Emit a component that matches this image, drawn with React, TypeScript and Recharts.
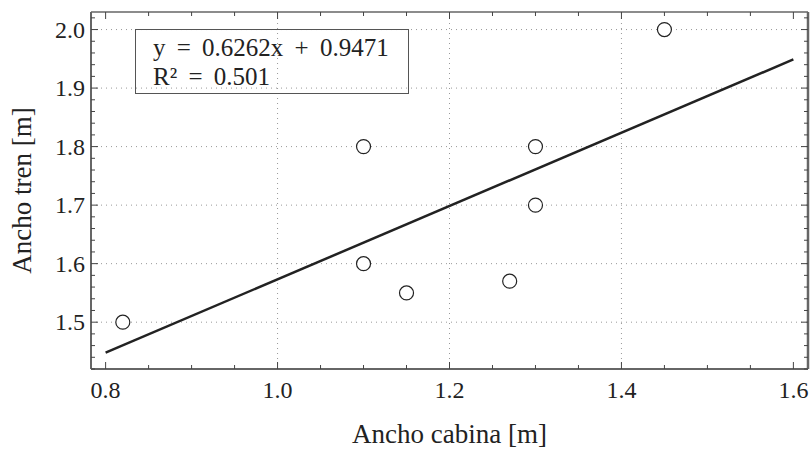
import React from 'react';
import { ScatterChart, Scatter, XAxis, YAxis, ReferenceLine } from 'recharts';

// Observed points
const pointX = [0.82, 1.1, 1.1, 1.15, 1.27, 1.3, 1.3, 1.45];
const pointY = [1.5, 1.8, 1.6, 1.55, 1.57, 1.8, 1.7, 2.0];

// Fitted line end points (y = 0.6262x + 0.9471)
const fitX = [0.8, 1.6];
const fitY = [1.448, 1.949];

// Axis ticks
const xMajorTicks = [0.8, 1.0, 1.2, 1.4, 1.6];
const xMinorTicks = [0.85, 0.9, 0.95, 1.05, 1.1, 1.15, 1.25, 1.3, 1.35, 1.45, 1.5, 1.55];
const yMajorTicks = [1.5, 1.6, 1.7, 1.8, 1.9, 2.0];
const yMinorTicks = [
  1.42, 1.44, 1.46, 1.48, 1.52, 1.54, 1.56, 1.58, 1.62, 1.64, 1.66, 1.68,
  1.72, 1.74, 1.76, 1.78, 1.82, 1.84, 1.86, 1.88, 1.92, 1.94, 1.96, 1.98, 2.02,
];
const xGridValues = [1.0, 1.2, 1.4];
const yGridValues = [1.5, 1.6, 1.7, 1.8, 1.9, 2.0];

const xDomain = [0.783, 1.617];
const yDomain = [1.42, 2.03];

const fitLabel = 'y = 0.6262x + 0.9471';
const r2Label = 'R² = 0.501';
const xTitle = 'Ancho cabina [m]';
const yTitle = 'Ancho tren [m]';

const points = pointX.map((x, i) => ({ x, y: pointY[i] }));
const fitData = fitX.map((x, i) => ({ x, y: fitY[i] }));
const xAllTicks = [...xMajorTicks, ...xMinorTicks].sort((a, b) => a - b);
const yAllTicks = [...yMajorTicks, ...yMinorTicks].sort((a, b) => a - b);

const FONT = '"Liberation Serif", "Times New Roman", serif';
const AXIS = '#666';
const TICK = '#444';
const TEXT = '#222';

const isMajor = (arr: number[], v: number) => arr.some((m) => Math.abs(m - v) < 1e-9);

const BottomTick = (props: any) => {
  const { x, y, payload } = props;
  const major = isMajor(xMajorTicks, payload.value);
  return (
    <g>
      <line x1={x} y1={y} x2={x} y2={y - (major ? 7 : 4)} stroke={TICK} strokeWidth={1} />
      {major && (
        <text x={x} y={y + 29} textAnchor="middle" fontFamily={FONT} fontSize={24} fill={TEXT}>
          {payload.value.toFixed(1)}
        </text>
      )}
    </g>
  );
};

const TopTick = (props: any) => {
  const { x, y, payload } = props;
  const major = isMajor(xMajorTicks, payload.value);
  return <line x1={x} y1={y} x2={x} y2={y + (major ? 7 : 4)} stroke={TICK} strokeWidth={1} />;
};

const LeftTick = (props: any) => {
  const { x, y, payload } = props;
  const major = isMajor(yMajorTicks, payload.value);
  return (
    <g>
      <line x1={x} y1={y} x2={x + (major ? 7 : 4)} y2={y} stroke={TICK} strokeWidth={1} />
      {major && (
        <text x={x - 6} y={y + 8} textAnchor="end" fontFamily={FONT} fontSize={24} fill={TEXT}>
          {payload.value.toFixed(1)}
        </text>
      )}
    </g>
  );
};

const RightTick = (props: any) => {
  const { x, y, payload } = props;
  const major = isMajor(yMajorTicks, payload.value);
  return <line x1={x} y1={y} x2={x - (major ? 7 : 4)} y2={y} stroke={TICK} strokeWidth={1} />;
};

const OpenCircle = (props: any) => (
  <circle cx={props.cx} cy={props.cy} r={7} fill="#fff" stroke="#222" strokeWidth={1.2} />
);

const NoShape = () => <g />;

const XTitle = (props: any) => {
  const vb = props.viewBox;
  return (
    <text x={vb.x + vb.width / 2} y={vb.y + 74} textAnchor="middle" fontFamily={FONT} fontSize={27} fill={TEXT}>
      {xTitle}
    </text>
  );
};

const YTitle = (props: any) => {
  const vb = props.viewBox;
  const cx = 31;
  const cy = vb.y + vb.height / 2;
  return (
    <text
      x={cx}
      y={cy}
      transform={`rotate(-90 ${cx} ${cy})`}
      textAnchor="middle"
      fontFamily={FONT}
      fontSize={27}
      fill={TEXT}
    >
      {yTitle}
    </text>
  );
};

export default function App() {
  return (
    <div style={{ position: 'absolute', left: 0, top: 0, width: 811, height: 450, background: '#fff' }}>
      <ScatterChart width={811} height={450} margin={{ top: 0, right: 0, bottom: 0, left: 0 }}>
        <XAxis
          xAxisId={0}
          type="number"
          dataKey="x"
          domain={xDomain}
          ticks={xAllTicks}
          interval={0}
          orientation="bottom"
          height={81}
          tickSize={0}
          tickMargin={0}
          tick={<BottomTick />}
          tickLine={false}
          axisLine={{ stroke: AXIS, strokeWidth: 2 }}
          allowDataOverflow
          label={<XTitle />}
        />
        <XAxis
          xAxisId="top"
          type="number"
          dataKey="x"
          domain={xDomain}
          ticks={xAllTicks}
          interval={0}
          orientation="top"
          height={12}
          tickSize={0}
          tickMargin={0}
          tick={<TopTick />}
          tickLine={false}
          axisLine={{ stroke: AXIS, strokeWidth: 1.5 }}
          allowDataOverflow
        />
        <YAxis
          yAxisId={0}
          type="number"
          dataKey="y"
          domain={yDomain}
          ticks={yAllTicks}
          interval={0}
          orientation="left"
          width={91}
          tickSize={0}
          tickMargin={0}
          tick={<LeftTick />}
          tickLine={false}
          axisLine={{ stroke: AXIS, strokeWidth: 2 }}
          allowDataOverflow
          label={<YTitle />}
        />
        <YAxis
          yAxisId="right"
          type="number"
          dataKey="y"
          domain={yDomain}
          ticks={yAllTicks}
          interval={0}
          orientation="right"
          width={3}
          tickSize={0}
          tickMargin={0}
          tick={<RightTick />}
          tickLine={false}
          axisLine={{ stroke: AXIS, strokeWidth: 2.5 }}
          allowDataOverflow
        />
        {xGridValues.map((v) => (
          <ReferenceLine key={'gx' + v} x={v} stroke="#999" strokeWidth={1} strokeDasharray="1 4" />
        ))}
        {yGridValues.map((v) => (
          <ReferenceLine key={'gy' + v} y={v} stroke="#999" strokeWidth={1} strokeDasharray="1 4" />
        ))}
        <Scatter
          data={fitData}
          line={{ stroke: '#222', strokeWidth: 2.5 }}
          shape={<NoShape />}
          isAnimationActive={false}
        />
        <Scatter data={points} shape={<OpenCircle />} isAnimationActive={false} />
      </ScatterChart>
      <div
        style={{
          position: 'absolute',
          left: 135,
          top: 29,
          width: 274,
          height: 65,
          border: '1px solid #555',
          fontFamily: FONT,
          fontSize: 25,
          color: TEXT,
          boxSizing: 'border-box',
        }}
      >
        <div style={{ position: 'absolute', left: 17, top: 4, lineHeight: '27px', whiteSpace: 'nowrap', wordSpacing: 5 }}>
          {fitLabel}
        </div>
        <div style={{ position: 'absolute', left: 17, top: 33, lineHeight: '27px', whiteSpace: 'nowrap', wordSpacing: 5 }}>
          {r2Label}
        </div>
      </div>
    </div>
  );
}
